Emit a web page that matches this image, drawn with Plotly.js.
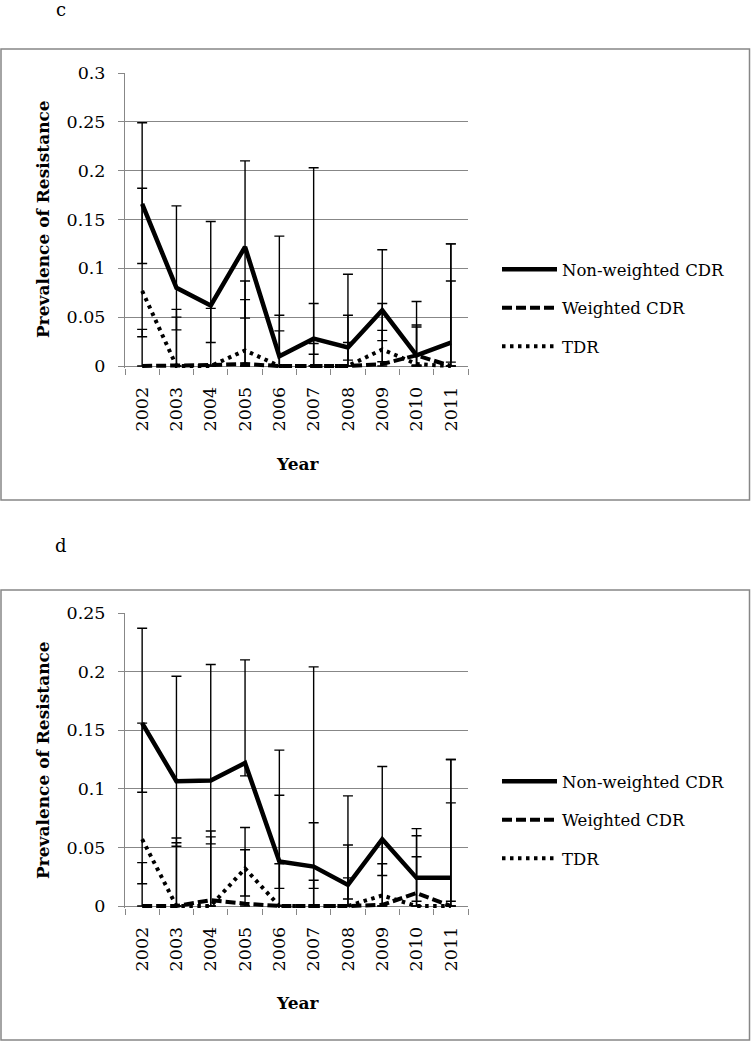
<!DOCTYPE html>
<html>
<head>
<meta charset="utf-8">
<script src="https://cdn.plot.ly/plotly-3.0.1.min.js"></script>
<style>
html, body { margin: 0; padding: 0; background: #ffffff; }
#chart { width: 751px; height: 1041px; }
</style>
</head>
<body>
<div id="chart"></div>
<script>
// ---------------- DATA ----------------
const years = ['2002', '2003', '2004', '2005', '2006', '2007', '2008', '2009', '2010', '2011'];
const seriesNames = ['Non-weighted CDR', 'Weighted CDR', 'TDR'];

// Panel c
const cNonWeighted   = [0.166, 0.080, 0.062, 0.122, 0.010, 0.028, 0.019, 0.057, 0.011, 0.024];
const cNonWeightedHi = [0.249, 0.164, 0.148, 0.210, 0.133, 0.203, 0.094, 0.119, 0.066, 0.125];
const cNonWeightedLo = [0.105, 0.037, 0.024, 0.049, 0.000, 0.012, 0.006, 0.026, 0.001, 0.004];
const cWeighted      = [0.000, 0.000, 0.001, 0.002, 0.000, 0.000, 0.000, 0.002, 0.011, 0.000];
const cWeightedHi    = [0.0375, 0.050, 0.001, 0.068, 0.036, 0.023, 0.024, 0.0365, 0.040, 0.087];
const cWeightedLo    = [0.000, 0.000, 0.000, 0.000, 0.000, 0.000, 0.000, 0.000, 0.000, 0.000];
const cTDR           = [0.077, 0.000, 0.000, 0.016, 0.000, 0.000, 0.000, 0.017, 0.002, 0.000];
const cTDRHi         = [0.182, 0.058, 0.059, 0.087, 0.052, 0.064, 0.052, 0.064, 0.042, 0.125];
const cTDRLo         = [0.030, 0.000, 0.000, 0.000, 0.000, 0.000, 0.000, 0.0044, 0.000, 0.000];

// Panel d
const dNonWeighted   = [0.156, 0.1065, 0.107, 0.122, 0.038, 0.0336, 0.018, 0.057, 0.024, 0.024];
const dNonWeightedHi = [0.237, 0.196, 0.206, 0.210, 0.133, 0.204, 0.094, 0.119, 0.066, 0.125];
const dNonWeightedLo = [0.097, 0.051, 0.053, 0.111, 0.015, 0.015, 0.006, 0.026, 0.004, 0.004];
const dWeighted      = [0.000, 0.000, 0.005, 0.002, 0.000, 0.000, 0.000, 0.001, 0.011, 0.000];
const dWeightedHi    = [0.037, 0.054, 0.059, 0.048, 0.036, 0.022, 0.024, 0.036, 0.042, 0.088];
const dWeightedLo    = [0.000, 0.000, 0.000, 0.000, 0.000, 0.000, 0.000, 0.000, 0.000, 0.000];
const dTDR           = [0.057, 0.000, 0.000, 0.032, 0.000, 0.000, 0.000, 0.009, 0.000, 0.000];
const dTDRHi         = [0.156, 0.058, 0.064, 0.067, 0.0945, 0.071, 0.052, 0.054, 0.060, 0.125];
const dTDRLo         = [0.019, 0.000, 0.000, 0.0085, 0.000, 0.000, 0.000, 0.000, 0.000, 0.000];

const cTickVals = [0, 0.05, 0.1, 0.15, 0.2, 0.25, 0.3];
const cTickText = ['0', '0.05', '0.1', '0.15', '0.2', '0.25', '0.3'];
const dTickVals = [0, 0.05, 0.1, 0.15, 0.2, 0.25];
const dTickText = ['0', '0.05', '0.1', '0.15', '0.2', '0.25'];

// ---------------- STYLE / LAYOUT ----------------
const W = 751, H = 1041;
const FONT = '"DejaVu Serif", "Liberation Serif", serif';
const GRAY = '#878787';
const px = v => v / W;
const py = v => 1 - v / H;

const plotLeft = 125, plotRight = 468;
const cTop = 73, cZero = 366, cMax = 0.3, cMin = -0.0025;
const dTop = 613, dZero = 906, dMax = 0.25, dMin = -0.002;
const cBottom = cZero + (cZero - cTop) / cMax * (-cMin);
const dBottom = dZero + (dZero - dTop) / dMax * (-dMin);

const styles = [
  { width: 4.5, dash: 'solid' },
  { width: 4, dash: '10px,4px' },
  { width: 4, dash: '3.5px,4.5px' }
];

function makeErr(vals, hi, lo) {
  return {
    type: 'data', symmetric: false,
    array: vals.map((v, i) => Math.max(hi[i] - v, 0)),
    arrayminus: vals.map((v, i) => Math.max(v - lo[i], 0)),
    color: '#000000', thickness: 1.4, width: 5
  };
}

function panelTraces(sets, xa, ya, legendId, suffix) {
  return sets.map((s, k) => ({
    type: 'scatter', mode: 'lines',
    x: years, y: s[0],
    xaxis: xa, yaxis: ya,
    name: seriesNames[k],
    legend: legendId,
    legendgroup: 'g' + suffix + k,
    line: { color: '#000000', width: styles[k].width, dash: styles[k].dash },
    error_y: makeErr(s[0], s[1], s[2]),
    hoverinfo: 'skip'
  }));
}

const traces = [].concat(
  panelTraces([[cNonWeighted, cNonWeightedHi, cNonWeightedLo],
               [cWeighted, cWeightedHi, cWeightedLo],
               [cTDR, cTDRHi, cTDRLo]], 'x', 'y', 'legend', 'c'),
  panelTraces([[dNonWeighted, dNonWeightedHi, dNonWeightedLo],
               [dWeighted, dWeightedHi, dWeightedLo],
               [dTDR, dTDRHi, dTDRLo]], 'x2', 'y2', 'legend2', 'd')
);

function xAxis(anchor) {
  return {
    domain: [px(plotLeft), px(plotRight)], anchor: anchor,
    type: 'category', range: [-0.5, 9.5],
    showline: false, showgrid: false, zeroline: false,
    ticks: 'outside', ticklen: 6, tickwidth: 1, tickcolor: GRAY,
    tickson: 'boundaries', tickangle: -90,
    ticklabelstandoff: 14,
    tickfont: { family: FONT, size: 17.5, color: '#000000' },
    automargin: false, fixedrange: true
  };
}
function yAxis(anchor, top, bottom, min, max, tv, tt) {
  return {
    domain: [py(bottom), py(top)], anchor: anchor,
    range: [min, max],
    tickmode: 'array', tickvals: tv, ticktext: tt,
    showline: true, linecolor: GRAY, linewidth: 1,
    showgrid: true, gridcolor: GRAY, gridwidth: 1,
    zeroline: true, zerolinecolor: GRAY, zerolinewidth: 1,
    ticks: 'outside', ticklen: 6, tickwidth: 1, tickcolor: GRAY,
    ticklabelstandoff: 9,
    tickfont: { family: FONT, size: 17.5, color: '#000000' },
    automargin: false, fixedrange: true
  };
}

function legendAt(topPx) {
  return {
    x: px(497), xanchor: 'left',
    y: py(topPx), yanchor: 'top',
    bgcolor: 'rgba(0,0,0,0)', borderwidth: 0,
    font: { family: FONT, size: 16.5, color: '#000000' },
    traceorder: 'grouped', tracegroupgap: 14,
    itemwidth: 55
  };
}

function ann(text, x, y, size, angle) {
  return {
    text: text, xref: 'paper', yref: 'paper',
    x: px(x), y: py(y), xanchor: 'center', yanchor: 'middle',
    showarrow: false, textangle: angle || 0,
    font: { family: FONT, size: size, color: '#000000' }
  };
}

const layout = {
  width: W, height: H,
  margin: { l: 0, r: 0, t: 0, b: 0, pad: 0 },
  paper_bgcolor: '#ffffff', plot_bgcolor: '#ffffff',
  font: { family: FONT, color: '#000000' },
  showlegend: true,
  xaxis: xAxis('y'),
  yaxis: yAxis('x', cTop, cBottom, cMin, cMax, cTickVals, cTickText),
  xaxis2: xAxis('y2'),
  yaxis2: yAxis('x2', dTop, dBottom, dMin, dMax, dTickVals, dTickText),
  legend: legendAt(252),
  legend2: legendAt(764),
  shapes: [
    { type: 'rect', xref: 'paper', yref: 'paper', x0: px(1), x1: px(749.5), y0: py(49), y1: py(500),
      line: { color: GRAY, width: 1.5 }, fillcolor: 'rgba(0,0,0,0)', layer: 'below' },
    { type: 'rect', xref: 'paper', yref: 'paper', x0: px(1), x1: px(749.5), y0: py(590), y1: py(1040),
      line: { color: GRAY, width: 1.5 }, fillcolor: 'rgba(0,0,0,0)', layer: 'below' }
  ],
  annotations: [
    ann('c', 61, 10, 18),
    ann('d', 61, 545, 18),
    ann('<b>Prevalence of Resistance</b>', 43, 219, 17, -90),
    ann('<b>Year</b>', 297, 464, 17),
    ann('<b>Prevalence of Resistance</b>', 43, 760, 17, -90),
    ann('<b>Year</b>', 297, 1003, 17)
  ]
};

Plotly.newPlot('chart', traces, layout, { staticPlot: true, displayModeBar: false });
</script>
</body>
</html>
